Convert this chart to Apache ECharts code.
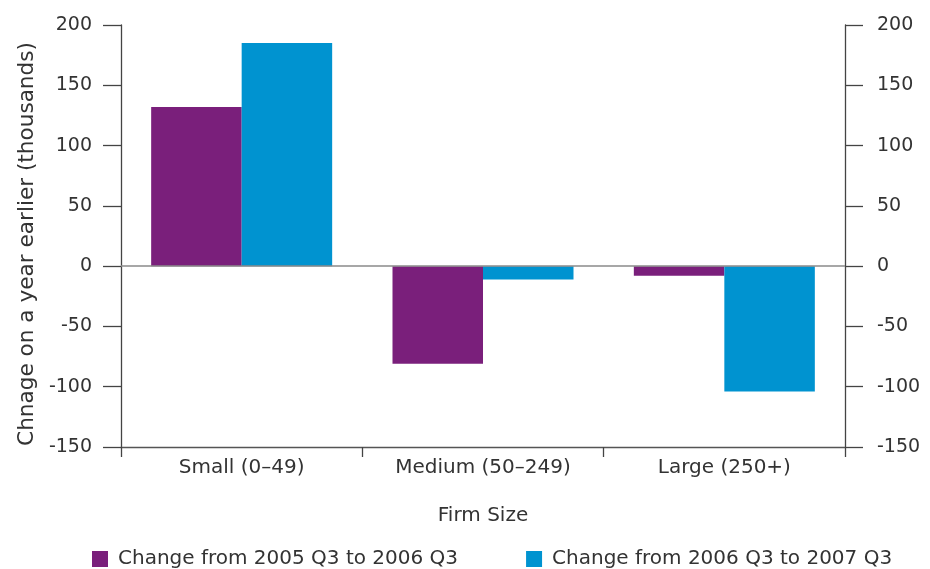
<!DOCTYPE html>
<html>
<head>
<meta charset="utf-8">
<script src="https://cdn.jsdelivr.net/npm/echarts@6/dist/echarts.min.js"></script>
<style>
  html, body { margin: 0; padding: 0; background: #ffffff; }
  #chart { width: 930px; height: 569px; }
</style>
</head>
<body>
<div id="chart"></div>
<script>
// firm size categories
const categories = ['Small (0–49)', 'Medium (50–249)', 'Large (250+)'];
// change on a year earlier, thousands
const change0506 = [132, -81, -8];
const change0607 = [185, -11, -104];
const seriesNames = ['Change from 2005 Q3 to 2006 Q3', 'Change from 2006 Q3 to 2007 Q3'];

const font = 'DejaVu Sans';
const textColor = '#333333';

const valueAxis = (pos, margin) => ({
  type: 'value',
  position: pos,
  min: -150,
  max: 200,
  interval: 50,
  axisLine: { show: true, lineStyle: { color: '#444444', width: 1.3 } },
  axisTick: { show: true, length: 18, lineStyle: { color: '#444444', width: 1.3 } },
  axisLabel: { color: textColor, fontFamily: font, fontSize: 19, margin: margin },
  splitLine: { show: false },
});

const chart = echarts.init(document.getElementById('chart'));
chart.setOption({
  animation: false,
  grid: { left: 121, right: 85, top: 25, bottom: 122 },
  legend: {
    left: 87,
    top: 544,
    itemWidth: 16,
    itemHeight: 16,
    itemGap: 68,
    icon: 'rect',
    textStyle: { color: textColor, fontFamily: font, fontSize: 20, padding: [0, 0, 0, 5] },
    data: seriesNames,
  },
  xAxis: {
    type: 'category',
    data: categories,
    name: 'Firm Size',
    nameLocation: 'middle',
    nameGap: 59,
    nameTextStyle: { color: textColor, fontFamily: font, fontSize: 20 },
    axisLine: { onZero: false, lineStyle: { color: '#555555', width: 1.3 } },
    axisTick: { show: true, length: 10, lineStyle: { color: '#444444', width: 1.3 } },
    axisLabel: { color: textColor, fontFamily: font, fontSize: 20, margin: 11 },
  },
  yAxis: [
    Object.assign(valueAxis('left', 29), {
      name: 'Chnage on a year earlier (thousands)',
      nameLocation: 'middle',
      nameGap: 83,
      nameTextStyle: { color: textColor, fontFamily: font, fontSize: 21.6, padding: [0, 16, 0, 0] },
    }),
    valueAxis('right', 32),
  ],
  series: [
    {
      name: seriesNames[0],
      type: 'bar',
      data: change0506,
      barGap: 0,
      barCategoryGap: '25%',
      itemStyle: { color: '#7a1f7b' },
      markLine: {
        silent: true,
        symbol: 'none',
        label: { show: false },
        lineStyle: { color: '#8a8a8a', width: 1.5, type: 'solid' },
        data: [{ yAxis: 0 }],
      },
    },
    {
      name: seriesNames[1],
      type: 'bar',
      data: change0607,
      barGap: 0,
      barCategoryGap: '25%',
      itemStyle: { color: '#0093d0' },
    },
  ],
});
</script>
</body>
</html>
